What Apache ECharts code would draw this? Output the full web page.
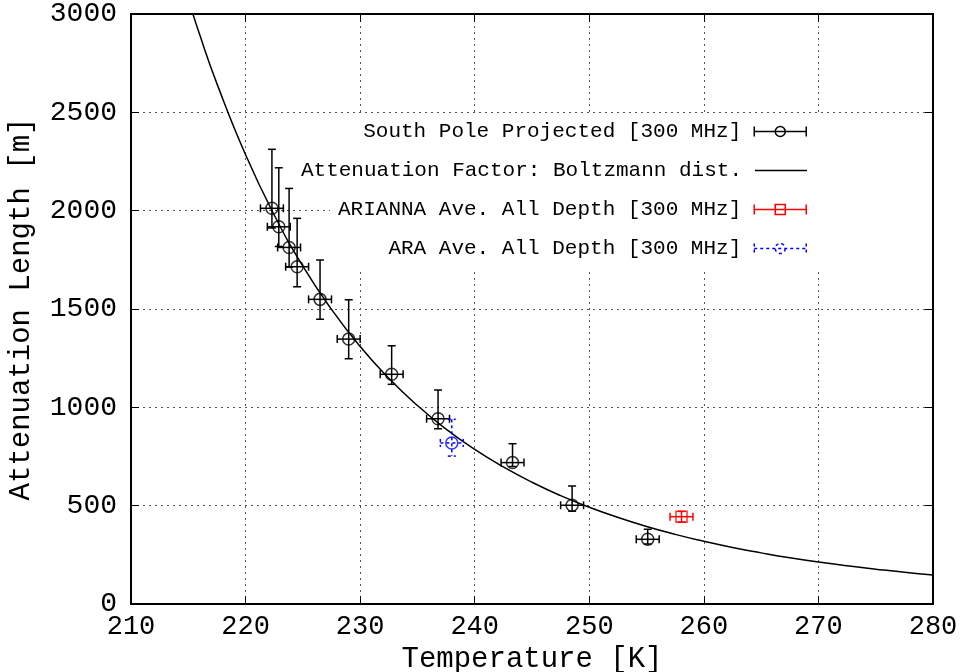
<!DOCTYPE html>
<html>
<head>
<meta charset="utf-8">
<script src="https://cdn.jsdelivr.net/npm/echarts@6/dist/echarts.min.js"></script>
<style>html,body{margin:0;padding:0;background:#fff}#c{width:972px;height:672px}</style>
</head>
<body>
<div id="c"></div>
<script>
// ---- Data ----
const spTemp   = [222.3, 222.9, 223.8, 224.5, 226.5, 229.0, 232.75, 236.8, 243.3, 248.5, 255.1];
const spLen    = [2012, 1918, 1813, 1715, 1549, 1347, 1168, 942, 719, 502, 329];
const spErrUp  = [300, 300, 300, 246, 200, 200, 145, 146, 96, 98, 51];
const spErrDn  = [100, 100, 100, 102, 101, 100, 51, 51, 20, 30, 24];
const spTErr   = [1, 1, 1, 1, 1, 1, 1, 1, 1, 1, 1];

const ariTemp  = [258.05];
const ariLen   = [444];
const ariErrUp = [27];
const ariErrDn = [27];
const ariTErr  = [1];

const araTemp  = [238.0];
const araLen   = [819];
const araErrUp = [120];
const araErrDn = [67];
const araTErr  = [1];

const curveT = [215, 216, 217.5, 220, 222.5, 225, 227.5, 230, 232.5, 235, 237.5, 240, 242.5, 245, 247.5, 250, 252.5, 255, 257.5, 260, 262.5, 265, 267.5, 270, 272.5, 275, 277.5, 280];
const curveL = [3076, 2894, 2646, 2284, 1978, 1718, 1498, 1309, 1148, 1009, 889, 786, 697, 619, 551, 492, 440, 394, 354, 319, 287, 260, 235, 213, 194, 177, 161, 147];

const xTicks = {min: 210, max: 280, interval: 10};
const yTicks = {min: 0, max: 3000, interval: 500};

const N_SP = 'South Pole Projected [300 MHz]';
const N_FIT = 'Attenuation Factor: Boltzmann dist.';
const N_ARI = 'ARIANNA Ave. All Depth [300 MHz]';
const N_ARA = 'ARA Ave. All Depth [300 MHz]';

const FONT = '"Liberation Mono", "DejaVu Sans Mono", monospace';

function rows(T, L, up, dn, dt) {
  return T.map((t, i) => [t, L[i], L[i] + up[i], L[i] - dn[i], t - dt[i], t + dt[i]]);
}

function errSeries(name, data, color, dashed) {
  return {
    name, type: 'custom', data, z: 5,
    encode: {x: [0, 4, 5], y: [1, 2, 3]},
    renderItem: function (params, api) {
      const t = api.value(0), l = api.value(1);
      const top = api.coord([t, api.value(2)]);
      const bot = api.coord([t, api.value(3)]);
      const lft = api.coord([api.value(4), l]);
      const rgt = api.coord([api.value(5), l]);
      const cap = 4;
      const style = {stroke: color, lineWidth: 1.5, fill: null, lineDash: dashed ? [3, 3] : null};
      const ln = (x1, y1, x2, y2) => ({type: 'line', shape: {x1, y1, x2, y2}, style});
      return {
        type: 'group',
        children: [
          ln(top[0], top[1], bot[0], bot[1]),
          ln(top[0] - cap, top[1], top[0] + cap, top[1]),
          ln(bot[0] - cap, bot[1], bot[0] + cap, bot[1]),
          ln(lft[0], lft[1], rgt[0], rgt[1]),
          ln(lft[0], lft[1] - cap, lft[0], lft[1] + cap),
          ln(rgt[0], rgt[1] - cap, rgt[0], rgt[1] + cap)
        ]
      };
    }
  };
}

const chart = echarts.init(document.getElementById('c'), null, {renderer: 'canvas'});

const legendBase = {
  orient: 'vertical', align: 'right', right: 165, padding: 0,
  itemWidth: 60, itemHeight: 10, selectedMode: false,
  textStyle: {fontFamily: FONT, fontSize: 21, color: '#000'}
};
const iconCircle = 'path://M0,5 M8,5 L60,5 M8,0 L8,10 M60,0 L60,10 M39,5 A5,5 0 1 1 29,5 A5,5 0 1 1 39,5';
const iconSquare = 'path://M0,5 M8,5 L60,5 M8,0 L8,10 M60,0 L60,10 M29,0 L39,0 L39,10 L29,10 Z M34,5 L34,5.5';
const iconLine = 'path://M0,5 M8,4.2 L60,4.2 L60,5.8 L8,5.8 Z M0,0 M0,10';

const option = {
  backgroundColor: '#fff',
  animation: false,
  grid: {left: 131, right: 39, top: 14, bottom: 68, containLabel: false, outerBoundsMode: 'none'},
  graphic: [{
    type: 'rect', z: 1, silent: true,
    shape: {x: 330, y: 114, width: 602, height: 154},
    style: {fill: '#fff'}
  }],
  legend: [
    Object.assign({}, legendBase, {data: [N_SP], top: 121, icon: iconCircle,
      itemStyle: {color: 'rgba(0,0,0,0)', borderColor: '#000', borderWidth: 1.5}}),
    Object.assign({}, legendBase, {data: [N_FIT], top: 160, icon: iconLine,
      itemStyle: {color: '#000', borderWidth: 0}}),
    Object.assign({}, legendBase, {data: [N_ARI], top: 199, icon: iconSquare,
      itemStyle: {color: 'rgba(0,0,0,0)', borderColor: '#ff0000', borderWidth: 1.5}}),
    Object.assign({}, legendBase, {data: [N_ARA], top: 238, icon: iconCircle,
      itemStyle: {color: 'rgba(0,0,0,0)', borderColor: '#0000ff', borderWidth: 1.5, borderType: [3, 3]}})
  ],
  xAxis: [{
    type: 'value', min: xTicks.min, max: xTicks.max, interval: xTicks.interval,
    name: 'Temperature [K]', nameLocation: 'middle', nameGap: 37,
    nameTextStyle: {fontFamily: FONT, fontSize: 29, color: '#000'},
    axisLine: {show: true, onZero: false, lineStyle: {color: '#000', width: 2}},
    axisTick: {show: true, inside: true, length: 8, lineStyle: {color: '#000', width: 1}},
    axisLabel: {fontFamily: FONT, fontSize: 27, color: '#000', margin: 9, formatter: v => String(v)},
    splitLine: {show: true, lineStyle: {color: '#555', width: 1, type: [2, 4]}}
  }, {
    type: 'value', position: 'top', min: xTicks.min, max: xTicks.max, interval: xTicks.interval,
    axisLine: {show: true, onZero: false, lineStyle: {color: '#000', width: 2}},
    axisTick: {show: true, inside: true, length: 8, lineStyle: {color: '#000', width: 1}},
    axisLabel: {show: false}, splitLine: {show: false}
  }],
  yAxis: [{
    type: 'value', min: yTicks.min, max: yTicks.max, interval: yTicks.interval,
    name: 'Attenuation Length [m]', nameLocation: 'middle', nameGap: 95,
    nameTextStyle: {fontFamily: FONT, fontSize: 29, color: '#000'},
    axisLine: {show: true, onZero: false, lineStyle: {color: '#000', width: 2}},
    axisTick: {show: true, inside: true, length: 8, lineStyle: {color: '#000', width: 1}},
    axisLabel: {fontFamily: FONT, fontSize: 28, color: '#000', margin: 14, formatter: v => String(v)},
    splitLine: {show: true, lineStyle: {color: '#555', width: 1, type: [2, 4]}}
  }, {
    type: 'value', position: 'right', min: yTicks.min, max: yTicks.max, interval: yTicks.interval,
    axisLine: {show: true, onZero: false, lineStyle: {color: '#000', width: 2}},
    axisTick: {show: true, inside: true, length: 8, lineStyle: {color: '#000', width: 1}},
    axisLabel: {show: false}, splitLine: {show: false}
  }],
  series: [
    {
      name: N_FIT, type: 'line', smooth: true, showSymbol: false, clip: true, z: 3,
      data: curveT.map((t, i) => [t, curveL[i]]),
      lineStyle: {color: '#000', width: 1.5}, itemStyle: {color: '#000'}
    },
    errSeries(N_SP, rows(spTemp, spLen, spErrUp, spErrDn, spTErr), '#000', false),
    {
      name: N_SP, type: 'scatter', symbol: 'circle', symbolSize: 12, z: 6,
      data: spTemp.map((t, i) => [t, spLen[i]]),
      itemStyle: {color: 'rgba(0,0,0,0)', borderColor: '#000', borderWidth: 1.5}
    },
    errSeries(N_ARI, rows(ariTemp, ariLen, ariErrUp, ariErrDn, ariTErr), '#ff0000', false),
    {
      name: N_ARI, type: 'scatter', symbol: 'rect', symbolSize: 11, z: 6,
      data: ariTemp.map((t, i) => [t, ariLen[i]]),
      itemStyle: {color: 'rgba(0,0,0,0)', borderColor: '#ff0000', borderWidth: 1.5}
    },
    errSeries(N_ARA, rows(araTemp, araLen, araErrUp, araErrDn, araTErr), '#0000ff', true),
    {
      name: N_ARA, type: 'scatter', symbol: 'circle', symbolSize: 12, z: 6,
      data: araTemp.map((t, i) => [t, araLen[i]]),
      itemStyle: {color: 'rgba(0,0,0,0)', borderColor: '#0000ff', borderWidth: 1.5}
    }
  ]
};
chart.setOption(option);
</script>
</body>
</html>
